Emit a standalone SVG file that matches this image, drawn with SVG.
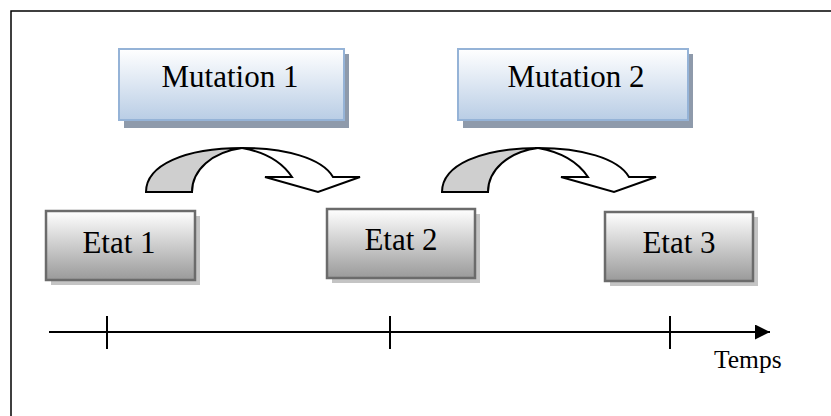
<svg xmlns="http://www.w3.org/2000/svg" width="831" height="416" viewBox="0 0 831 416">
<defs>
<linearGradient id="gBlue" x1="0" y1="0" x2="0" y2="1">
<stop offset="0" stop-color="#ffffff"/>
<stop offset="1" stop-color="#b9cde5"/>
</linearGradient>
<linearGradient id="gGray" x1="0" y1="0" x2="0" y2="1">
<stop offset="0" stop-color="#ffffff"/>
<stop offset="1" stop-color="#9a9a9a"/>
</linearGradient>
<marker id="ah" markerWidth="16" markerHeight="16" refX="15" refY="7.5" orient="auto" markerUnits="userSpaceOnUse">
<path d="M0,0 L15,7.5 L0,15 Z" fill="#000"/>
</marker>
<g id="curved">
<path d="M242,148 C285,148 322,158 333,177 L360,177 L318,192 L265,177 L292,177 C282,162 265,152 242,148 Z" fill="#fff" stroke="#000" stroke-width="2" stroke-linejoin="miter"/>
<path d="M146,192 C146,165 185,148 242,148 C212,152 192,170 192,192 Z" fill="#cfcfcf" stroke="#000" stroke-width="2" stroke-linejoin="miter"/>
</g>
</defs>
<style>
.mut{fill:url(#gBlue);stroke:#95b3d7;stroke-width:2}
.mutsh{fill:#8e9aab}
.etat{fill:url(#gGray);stroke:#6b6b6b;stroke-width:2.5}
.etatsh{fill:#c4c4c4}
.tl{stroke:#000;stroke-width:2;fill:none}
</style>
<rect width="831" height="416" fill="#fff"/>
<path d="M11,416 L11,11 L831,11" fill="none" stroke="#000" stroke-width="1.5"/>

<g font-family="Liberation Serif, serif" font-size="31" fill="#000" text-anchor="middle">
<g id="mutation1">
<rect class="mutsh" x="124" y="54" width="225" height="74"/>
<rect class="mut" x="119" y="49" width="225" height="71"/>
<text x="230" y="87">Mutation 1</text>
</g>
<g id="mutation2">
<rect class="mutsh" x="463" y="54" width="230" height="74"/>
<rect class="mut" x="458" y="49" width="230" height="71"/>
<text x="576" y="87">Mutation 2</text>
</g>
<g id="etat1">
<rect class="etatsh" x="51" y="216" width="149" height="69"/>
<rect class="etat" x="46" y="211" width="149" height="69"/>
<text x="119" y="253">Etat 1</text>
</g>
<g id="etat2">
<rect class="etatsh" x="332" y="214" width="148" height="69"/>
<rect class="etat" x="327" y="209" width="148" height="69"/>
<text x="401" y="250">Etat 2</text>
</g>
<g id="etat3">
<rect class="etatsh" x="610" y="217" width="148" height="69"/>
<rect class="etat" x="605" y="212" width="148" height="69"/>
<text x="679" y="253">Etat 3</text>
</g>
</g>

<g id="connectors">
<use href="#curved"/>
<use href="#curved" transform="translate(296,0)"/>
</g>

<g id="timeline">
<line class="tl" x1="49" y1="332" x2="770" y2="332" marker-end="url(#ah)"/>
<line class="tl" x1="107" y1="316" x2="107" y2="349"/>
<line class="tl" x1="390" y1="316" x2="390" y2="349"/>
<line class="tl" x1="670" y1="316" x2="670" y2="349"/>
<text x="714" y="368" font-family="Liberation Serif, serif" font-size="25.5" fill="#000">Temps</text>
</g>
</svg>
